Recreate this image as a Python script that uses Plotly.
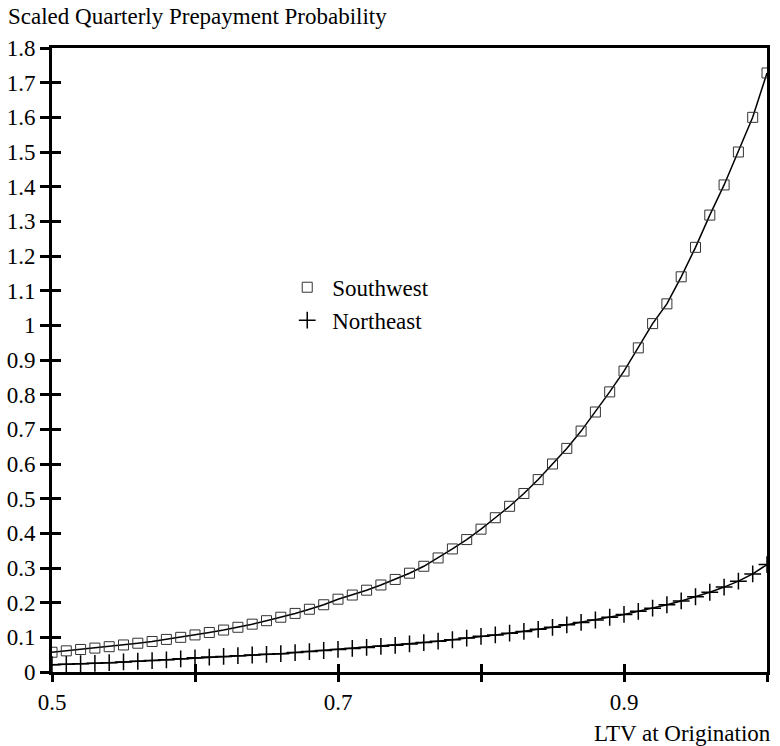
import plotly.graph_objects as go

ltv = [0.50, 0.51, 0.52, 0.53, 0.54, 0.55, 0.56, 0.57, 0.58, 0.59,
       0.60, 0.61, 0.62, 0.63, 0.64, 0.65, 0.66, 0.67, 0.68, 0.69,
       0.70, 0.71, 0.72, 0.73, 0.74, 0.75, 0.76, 0.77, 0.78, 0.79,
       0.80, 0.81, 0.82, 0.83, 0.84, 0.85, 0.86, 0.87, 0.88, 0.89,
       0.90, 0.91, 0.92, 0.93, 0.94, 0.95, 0.96, 0.97, 0.98, 0.99, 1.00]

southwest = [0.057, 0.061, 0.065, 0.069, 0.073, 0.078, 0.083, 0.088, 0.094, 0.100,
             0.107, 0.114, 0.121, 0.129, 0.138, 0.148, 0.158, 0.169, 0.181, 0.194,
             0.210, 0.222, 0.236, 0.251, 0.267, 0.285, 0.305, 0.329, 0.355, 0.382,
             0.412, 0.445, 0.478, 0.515, 0.555, 0.600, 0.645, 0.695, 0.750, 0.808,
             0.868, 0.935, 1.005, 1.062, 1.140, 1.225, 1.318, 1.405, 1.500, 1.600, 1.728]

northeast = [0.021, 0.022, 0.024, 0.025, 0.027, 0.029, 0.031, 0.033, 0.035, 0.038,
             0.041, 0.043, 0.045, 0.047, 0.049, 0.051, 0.053, 0.056, 0.059, 0.062,
             0.065, 0.068, 0.071, 0.074, 0.077, 0.081, 0.085, 0.089, 0.093, 0.098,
             0.103, 0.107, 0.112, 0.117, 0.123, 0.129, 0.136, 0.143, 0.150, 0.158,
             0.166, 0.175, 0.184, 0.194, 0.205, 0.217, 0.230, 0.245, 0.262, 0.283, 0.310]

x_tickvals = [0.5, 0.6, 0.7, 0.8, 0.9, 1.0]
x_ticktext = ["0.5", "", "0.7", "", "0.9", ""]
y_tickvals = [round(0.1 * i, 1) for i in range(19)]
y_ticktext = ["0", "0.1", "0.2", "0.3", "0.4", "0.5", "0.6", "0.7", "0.8", "0.9",
              "1", "1.1", "1.2", "1.3", "1.4", "1.5", "1.6", "1.7", "1.8"]

FONT = "Liberation Serif, Times New Roman, serif"

fig = go.Figure()
fig.add_trace(go.Scatter(x=ltv, y=southwest, mode="lines",
                         line=dict(color="black", width=1.5), showlegend=False))
fig.add_trace(go.Scatter(x=ltv, y=northeast, mode="lines",
                         line=dict(color="black", width=1.5), showlegend=False))
fig.add_trace(go.Scatter(x=ltv, y=southwest, mode="markers", name="Southwest",
                         marker=dict(symbol="square-open", size=10, color="#333",
                                     line=dict(width=1, color="#333"))))
fig.add_trace(go.Scatter(x=ltv, y=northeast, mode="markers", name="Northeast",
                         marker=dict(symbol="cross-thin", size=12, color="black",
                                     line=dict(width=1.5, color="black"))))
# dummy trace to activate inner-tick overlay axes
fig.add_trace(go.Scatter(x=[None], y=[None], xaxis="x2", yaxis="y2",
                         showlegend=False, hoverinfo="skip"))

fig.update_layout(
    width=780, height=746,
    margin=dict(l=52, r=13, t=48, b=74),
    paper_bgcolor="white", plot_bgcolor="white",
    font=dict(family=FONT, size=23, color="black"),
    showlegend=True,
    legend=dict(x=0.322, y=0.651, xanchor="left", yanchor="top",
                bgcolor="rgba(0,0,0,0)", font=dict(family=FONT, size=23),
                itemwidth=40, tracegroupgap=0),
    xaxis=dict(range=[0.5, 1.0], tickvals=x_tickvals, ticktext=x_ticktext,
               ticks="outside", ticklen=7, tickwidth=2.5, tickcolor="black",
               showline=True, linewidth=3, linecolor="black", mirror=True,
               showgrid=False, zeroline=False, ticklabelstandoff=0,
               automargin=False, tickfont=dict(family=FONT, size=23)),
    yaxis=dict(range=[0, 1.8], tickvals=y_tickvals, ticktext=y_ticktext,
               ticks="outside", ticklen=9, tickwidth=2.5, tickcolor="black",
               showline=True, linewidth=3, linecolor="black", mirror=True,
               showgrid=False, zeroline=False, ticklabelstandoff=0,
               automargin=False, tickfont=dict(family=FONT, size=23)),
    xaxis2=dict(range=[0.5, 1.0], overlaying="x", anchor="y2", side="bottom",
                tickvals=x_tickvals, ticks="inside", ticklen=8, tickwidth=2.5,
                tickcolor="black", showticklabels=False, showline=False,
                showgrid=False, zeroline=False, automargin=False),
    yaxis2=dict(range=[0, 1.8], overlaying="y", anchor="x2", side="left",
                tickvals=y_tickvals, ticks="inside", ticklen=9, tickwidth=2.5,
                tickcolor="black", showticklabels=False, showline=False,
                showgrid=False, zeroline=False, automargin=False),
    annotations=[
        dict(text="Scaled Quarterly Prepayment Probability", xref="paper", yref="paper",
             x=-0.064, y=1.051, xanchor="left", yanchor="middle", showarrow=False,
             font=dict(family=FONT, size=23)),
        dict(text="LTV at Origination", xref="paper", yref="paper",
             x=1.008, y=-0.098, xanchor="right", yanchor="middle", showarrow=False,
             font=dict(family=FONT, size=23)),
    ],
)

fig.write_html("out.html")
